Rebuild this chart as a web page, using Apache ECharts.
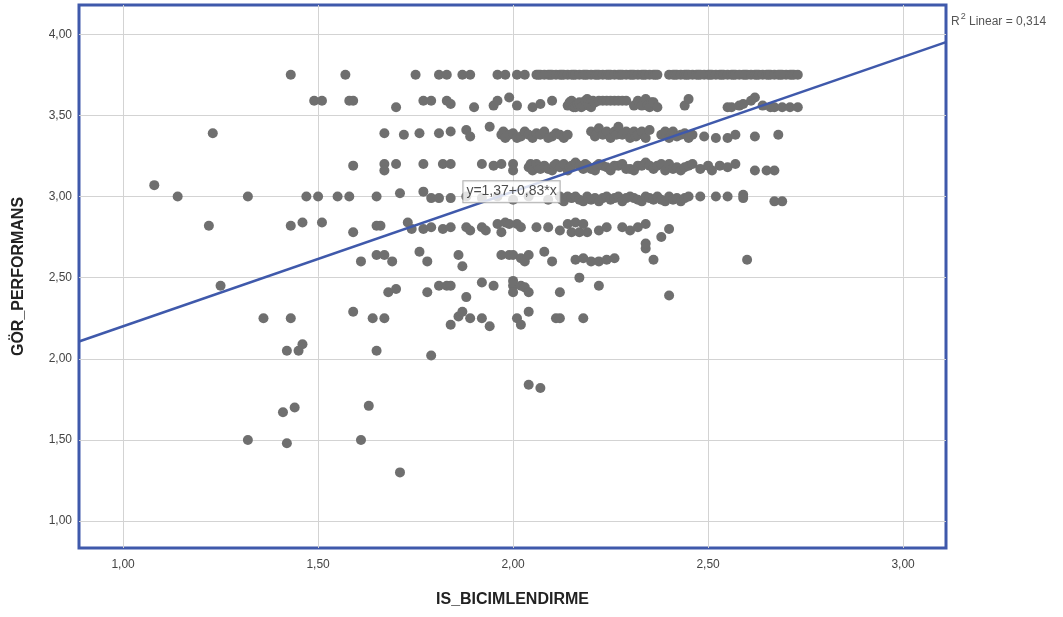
<!DOCTYPE html>
<html><head><meta charset="utf-8">
<script src="https://cdn.jsdelivr.net/npm/echarts@6/dist/echarts.min.js"></script>
<style>html,body{margin:0;padding:0;background:#fff}#c{width:1063px;height:617px}</style>
</head><body><div id="c"></div>
<script>
// ---- data (x = IS_BICIMLENDIRME, y = GÖR_PERFORMANS) ----
const xTicks = [1.0, 1.5, 2.0, 2.5, 3.0];
const yTicks = [1.0, 1.5, 2.0, 2.5, 3.0, 3.5, 4.0];
const xRange = [0.887, 3.11];
const yRange = [0.834, 4.18];
const fitIntercept = 1.37, fitSlope = 0.83;
const fitLabel = 'y=1,37+0,83*x';
const r2Text = '{r|R}{s|2}{r| Linear = 0,314}';

const row375x = [1.43,1.57,1.75,1.81,1.83,1.87,1.89,1.96,1.98,2.01,2.03,2.06,2.065,2.07,2.08,2.09,2.095,2.10,2.11,2.12,2.125,2.13,2.14,2.15,2.155,2.16,2.17,2.18,2.185,2.19,2.20,2.21,2.215,2.22,2.23,2.24,2.245,2.25,2.26,2.27,2.275,2.28,2.29,2.30,2.305,2.31,2.32,2.33,2.335,2.34,2.35,2.36,2.365,2.37,2.40,2.41,2.415,2.42,2.43,2.44,2.445,2.45,2.46,2.47,2.475,2.48,2.49,2.50,2.505,2.51,2.52,2.53,2.535,2.54,2.55,2.56,2.565,2.57,2.58,2.59,2.595,2.60,2.61,2.62,2.625,2.63,2.64,2.65,2.655,2.66,2.67,2.68,2.685,2.69,2.70,2.71,2.715,2.72,2.73];
const row375y = 3.75;

const pts356 = [[1.49,3.59],[1.51,3.59],[1.58,3.59],[1.59,3.59],[1.70,3.55],[1.77,3.59],[1.79,3.59],[1.83,3.59],[1.84,3.57],[1.90,3.55],[1.95,3.56],[1.96,3.59],[1.99,3.61],[2.01,3.56],[2.05,3.55],[2.07,3.57],[2.10,3.59],[2.14,3.56],[2.145,3.58],[2.15,3.59],[2.155,3.55],[2.16,3.55],[2.165,3.57],[2.17,3.58],[2.175,3.55],[2.18,3.56],[2.185,3.59],[2.19,3.60],[2.195,3.56],[2.20,3.55],[2.205,3.59],[2.21,3.58],[2.22,3.59],[2.23,3.59],[2.24,3.59],[2.25,3.59],[2.26,3.59],[2.27,3.59],[2.28,3.59],[2.29,3.59],[2.31,3.56],[2.32,3.59],[2.325,3.57],[2.33,3.56],[2.34,3.60],[2.345,3.56],[2.35,3.55],[2.355,3.58],[2.36,3.58],[2.37,3.55],[2.44,3.56],[2.45,3.60],[2.55,3.55],[2.56,3.55],[2.58,3.56],[2.59,3.57],[2.61,3.59],[2.62,3.61],[2.64,3.56],[2.66,3.55],[2.67,3.55],[2.69,3.55],[2.71,3.55],[2.73,3.55]];

const pts338 = [[1.23,3.39],[1.67,3.39],[1.72,3.38],[1.76,3.39],[1.81,3.39],[1.84,3.40],[1.88,3.41],[1.89,3.37],[1.94,3.43],[1.97,3.38],[1.975,3.40],[1.98,3.36],[1.99,3.38],[2.00,3.39],[2.01,3.36],[2.02,3.37],[2.03,3.40],[2.04,3.38],[2.05,3.36],[2.06,3.39],[2.07,3.38],[2.08,3.40],[2.09,3.36],[2.10,3.37],[2.11,3.39],[2.12,3.38],[2.13,3.36],[2.14,3.38],[2.20,3.40],[2.21,3.37],[2.215,3.39],[2.22,3.42],[2.23,3.38],[2.24,3.40],[2.25,3.36],[2.26,3.40],[2.265,3.38],[2.27,3.43],[2.28,3.38],[2.29,3.40],[2.30,3.36],[2.31,3.40],[2.315,3.37],[2.32,3.38],[2.33,3.40],[2.34,3.36],[2.35,3.41],[2.38,3.38],[2.39,3.40],[2.40,3.36],[2.41,3.40],[2.42,3.37],[2.43,3.38],[2.44,3.39],[2.45,3.36],[2.46,3.38],[2.49,3.37],[2.52,3.36],[2.55,3.36],[2.57,3.38],[2.62,3.37],[2.68,3.38]];

const pts319 = [[1.59,3.19],[1.67,3.20],[1.67,3.16],[1.70,3.20],[1.77,3.20],[1.82,3.20],[1.84,3.20],[1.92,3.20],[1.95,3.19],[1.97,3.20],[2.00,3.20],[2.00,3.16],[2.04,3.18],[2.045,3.20],[2.05,3.16],[2.06,3.20],[2.065,3.18],[2.07,3.17],[2.08,3.19],[2.09,3.17],[2.10,3.16],[2.105,3.19],[2.11,3.20],[2.12,3.18],[2.13,3.20],[2.14,3.16],[2.145,3.18],[2.15,3.19],[2.16,3.21],[2.17,3.19],[2.18,3.17],[2.185,3.20],[2.19,3.19],[2.20,3.17],[2.21,3.16],[2.215,3.19],[2.22,3.20],[2.23,3.19],[2.24,3.18],[2.25,3.16],[2.26,3.19],[2.27,3.19],[2.28,3.20],[2.29,3.17],[2.30,3.17],[2.31,3.16],[2.32,3.19],[2.33,3.19],[2.34,3.21],[2.35,3.19],[2.36,3.17],[2.37,3.19],[2.38,3.20],[2.39,3.16],[2.40,3.20],[2.41,3.17],[2.42,3.18],[2.43,3.16],[2.44,3.18],[2.45,3.19],[2.46,3.20],[2.48,3.17],[2.50,3.19],[2.51,3.16],[2.53,3.19],[2.55,3.18],[2.57,3.20],[2.62,3.16],[2.65,3.16],[2.67,3.16]];

const pts300 = [[1.08,3.07],[1.14,3.00],[1.32,3.00],[1.47,3.00],[1.50,3.00],[1.55,3.00],[1.58,3.00],[1.65,3.00],[1.71,3.02],[1.77,3.03],[1.79,2.99],[1.81,2.99],[1.84,2.99],[1.88,3.00],[1.92,2.99],[1.96,3.00],[2.00,2.98],[2.04,3.00],[2.09,2.98],[2.12,3.00],[2.125,2.98],[2.13,2.97],[2.14,3.00],[2.15,2.99],[2.16,3.00],[2.17,2.98],[2.18,2.97],[2.19,3.00],[2.20,2.98],[2.21,2.99],[2.22,2.97],[2.23,2.99],[2.24,3.00],[2.25,2.98],[2.26,2.99],[2.27,3.00],[2.28,2.97],[2.29,2.99],[2.30,3.00],[2.31,2.99],[2.32,2.98],[2.33,2.97],[2.34,3.00],[2.35,2.99],[2.36,2.98],[2.37,3.00],[2.38,2.98],[2.39,2.97],[2.40,3.00],[2.41,2.98],[2.42,2.99],[2.43,2.97],[2.44,2.99],[2.45,3.00],[2.48,3.00],[2.52,3.00],[2.55,3.00],[2.59,3.01],[2.59,2.99],[2.67,2.97],[2.69,2.97]];

const pts281 = [[1.22,2.82],[1.43,2.82],[1.46,2.84],[1.51,2.84],[1.59,2.78],[1.65,2.82],[1.66,2.82],[1.73,2.84],[1.74,2.80],[1.77,2.80],[1.79,2.81],[1.82,2.80],[1.84,2.81],[1.88,2.81],[1.89,2.79],[1.92,2.81],[1.93,2.79],[1.96,2.83],[1.97,2.78],[1.98,2.84],[1.99,2.83],[2.01,2.83],[2.02,2.81],[2.06,2.81],[2.09,2.81],[2.12,2.79],[2.14,2.83],[2.15,2.78],[2.16,2.84],[2.17,2.78],[2.18,2.83],[2.19,2.78],[2.22,2.79],[2.24,2.81],[2.28,2.81],[2.30,2.79],[2.32,2.81],[2.34,2.83],[2.38,2.75],[2.40,2.80],[2.34,2.68]];

const pts263 = [[1.61,2.60],[1.65,2.64],[1.67,2.64],[1.69,2.60],[1.76,2.66],[1.78,2.60],[1.86,2.64],[1.87,2.57],[1.97,2.64],[1.99,2.64],[2.00,2.64],[2.02,2.62],[2.03,2.60],[2.04,2.64],[2.08,2.66],[2.10,2.60],[2.16,2.61],[2.18,2.62],[2.20,2.60],[2.22,2.60],[2.24,2.61],[2.26,2.62],[2.34,2.71],[2.36,2.61],[2.60,2.61]];

const pts244 = [[1.25,2.45],[1.68,2.41],[1.70,2.43],[1.78,2.41],[1.81,2.45],[1.83,2.45],[1.84,2.45],[1.88,2.38],[1.92,2.47],[1.95,2.45],[2.00,2.45],[2.00,2.48],[2.00,2.41],[2.02,2.45],[2.03,2.44],[2.04,2.41],[2.12,2.41],[2.17,2.50],[2.22,2.45],[2.40,2.39]];

const pts225 = [[1.36,2.25],[1.43,2.25],[1.59,2.29],[1.64,2.25],[1.67,2.25],[1.84,2.21],[1.86,2.26],[1.87,2.29],[1.89,2.25],[1.92,2.25],[1.94,2.20],[2.01,2.25],[2.02,2.21],[2.04,2.29],[2.11,2.25],[2.12,2.25],[2.18,2.25]];

const ptsLow = [[1.42,2.05],[1.45,2.05],[1.46,2.09],[1.65,2.05],[1.79,2.02],[2.04,1.84],[2.07,1.82],[1.41,1.67],[1.44,1.70],[1.63,1.71],[1.32,1.50],[1.42,1.48],[1.61,1.50],[1.71,1.30]];

// ---- build ----
const scatterData = [].concat(
  row375x.map(x => [x, row375y]),
  pts356, pts338, pts319, pts300, pts281, pts263, pts244, pts225, ptsLow
);
const fitData = xRange.map(x => [x, fitIntercept + fitSlope * x]);
const labelX = 1.996, labelY = 3.03;
const fmt = v => v.toFixed(2).replace('.', ',');
const GRID = '#d3d3d3';
const FONT = 'Liberation Sans, Arial, sans-serif';

const chart = echarts.init(document.getElementById('c'), null, {renderer: 'canvas'});
chart.setOption({
  animation: false,
  backgroundColor: '#fff',
  title: {
    text: r2Text, left: 946, top: 7,
    textStyle: {
      fontWeight: 'normal', fontSize: 12, color: '#555', fontFamily: FONT,
      rich: {
        r: {fontFamily: FONT, fontSize: 12, fontWeight: 'normal', color: '#555', verticalAlign: 'bottom', lineHeight: 16},
        s: {fontFamily: FONT, fontSize: 9, fontWeight: 'normal', color: '#555', verticalAlign: 'top', lineHeight: 16, padding: [0, 0, 6, 1]}
      }
    }
  },
  grid: {
    left: 79, top: 5, right: 117, bottom: 69,
    show: true, borderColor: '#3f59ab', borderWidth: 3, backgroundColor: 'transparent',
    outerBoundsMode: 'none', containLabel: false
  },
  xAxis: {
    type: 'value', min: xRange[0], max: xRange[1],
    name: 'IS_BICIMLENDIRME', nameLocation: 'middle', nameGap: 44,
    nameTextStyle: {fontFamily: FONT, fontSize: 16, fontWeight: 'bold', color: '#222'},
    axisLine: {show: false}, axisTick: {show: false, customValues: xTicks},
    axisLabel: {customValues: xTicks, formatter: fmt, margin: 11, fontFamily: FONT, fontSize: 12, color: '#444'},
    splitLine: {show: true, lineStyle: {color: GRID, width: 1}}
  },
  yAxis: {
    type: 'value', min: yRange[0], max: yRange[1],
    name: 'GÖR_PERFORMANS', nameLocation: 'middle', nameGap: 52, nameRotate: 90,
    nameTextStyle: {fontFamily: FONT, fontSize: 16, fontWeight: 'bold', color: '#222'},
    axisLine: {show: false}, axisTick: {show: false, customValues: yTicks},
    axisLabel: {customValues: yTicks, formatter: fmt, margin: 7, fontFamily: FONT, fontSize: 12, color: '#444'},
    splitLine: {show: true, lineStyle: {color: GRID, width: 1}}
  },
  series: [
    {
      type: 'scatter', data: scatterData, symbol: 'circle', symbolSize: 10,
      itemStyle: {color: '#6f6f6f', opacity: 1}, z: 2
    },
    {
      type: 'line', data: fitData, showSymbol: false, symbol: 'none',
      lineStyle: {color: '#3f59ab', width: 2.5}, z: 3
    },
    {
      type: 'scatter', data: [[labelX, labelY]], symbolSize: 1,
      itemStyle: {color: 'rgba(0,0,0,0)'}, z: 5,
      label: {
        show: true, position: 'inside', formatter: fitLabel,
        fontFamily: FONT, fontSize: 14, color: '#222',
        backgroundColor: '#fff', borderColor: '#9a9a9a', borderWidth: 1, padding: [4, 3, 3, 3]
      }
    }
  ]
});
</script>
</body></html>
